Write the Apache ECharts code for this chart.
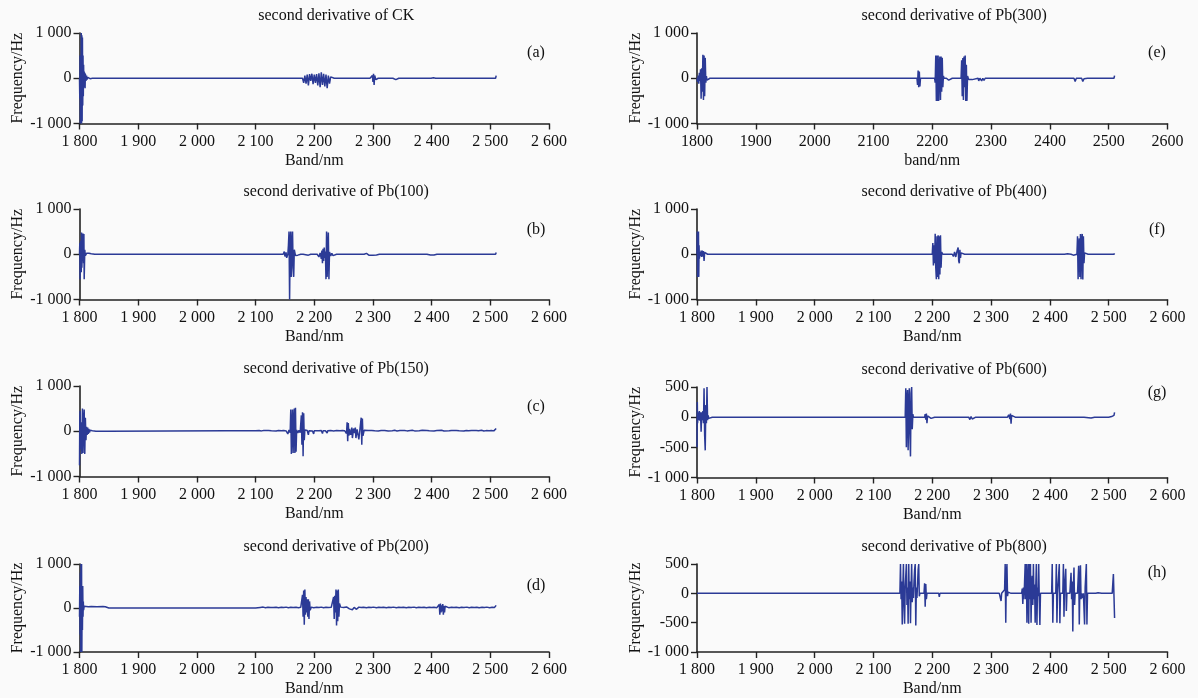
<!DOCTYPE html>
<html>
<head>
<meta charset="utf-8">
<script src="https://cdn.jsdelivr.net/npm/echarts@6/dist/echarts.min.js"></script>
<style>
html,body{margin:0;padding:0;background:#fafafa;}
#chart{width:1198px;height:698px;}
</style>
</head>
<body>
<div id="chart"></div>
<script>
// ---- Panel titles & labels ----
const panelTitles = ['second derivative of CK','second derivative of Pb(100)','second derivative of Pb(150)','second derivative of Pb(200)',
                     'second derivative of Pb(300)','second derivative of Pb(400)','second derivative of Pb(600)','second derivative of Pb(800)'];
const panelLetters = ['(a)','(b)','(c)','(d)','(e)','(f)','(g)','(h)'];
const xAxisNames = ['Band/nm','Band/nm','Band/nm','Band/nm','band/nm','Band/nm','Band/nm','Band/nm'];
const yAxisName = 'Frequency/Hz';
const xTicks = [1800,1900,2000,2100,2200,2300,2400,2500,2600];
const yTicksFull = [-1000,0,1000];
const yTicksHalf = [-1000,-500,0,500];

// ---- Series values: [band nm, second derivative] ----
const dataCK = [[1800,0],[1800.5,-450],[1801,500],[1801.5,-1000],[1802,300],[1802.5,-800],[1803,1000],[1803.5,-1000],[1804,950],[1804.5,-950],[1805,900],[1805.5,-600],[1806,500],[1806.5,-400],[1807,300],[1807.5,-200],[1808,150],[1808.5,-120],[1809,120],[1809.5,-220],[1810,100],[1811,-60],[1812,60],[1813,-30],[1814,20],[1815,-20],[1816,15],[1818,-10],[1820,10],[1822,0],[1826,0],
[2180,0],[2182,-100],[2184,60],[2186,-120],[2188,80],[2190,-160],[2192,90],[2194,-60],[2196,100],[2198,-130],[2200,80],[2202,-100],[2204,90],[2206,-160],[2208,110],[2210,-200],[2212,130],[2214,-150],[2216,100],[2218,-180],[2220,80],[2222,-220],[2224,60],[2226,-120],[2228,30],[2230,0],[2234,0],[2240,0],[2241,-15],[2242,0],[2257,0],[2258,-30],[2259,0],[2295,0],[2297,-40],[2299,60],[2300,-80],[2301,100],[2302,-150],[2303,60],[2305,-30],[2307,10],[2309,0],[2312,0],[2334,0],[2335,-30],[2337,0],[2339,-30],[2341,0],[2344,0],[2399,0],[2401,-25],[2403,10],[2405,-25],[2407,0],[2409,-20],[2411,0],[2414,0],[2461,0],[2463,-30],[2465,0],[2467,-30],[2469,0],[2472,0],[2509,0],[2510,60]];

const dataPb100 = [[1800,0],[1800.5,250],[1801,-550],[1802,300],[1803,-400],[1803.5,480],[1804,-300],[1805,200],[1805.5,-100],[1806,460],[1807,-200],[1807.5,450],[1808,-550],[1809,100],[1810,-30],[1812,20],[1814,-20],[1816,20],[1818,-20],[1820,10],[1822,0],[1826,0],
[2147,0],[2149,60],[2150,-50],[2152,40],[2153,-80],[2155,0],[2156,200],[2157,500],[2158,-1000],[2159,300],[2160,500],[2161,-500],[2162,200],[2163,500],[2164,-300],[2165,-500],[2166,100],[2168,-30],[2170,0],[2172,-20],[2174,0],[2177,0],[2180,-30],[2181,0],[2184,0],[2190,-20],[2191,0],[2194,0],[2200,0],[2203,-40],[2205,0],[2208,-60],[2210,30],[2212,-100],[2213,80],[2214,-200],[2215,120],[2216,-150],[2217,150],[2218,-80],[2219,60],[2220,-550],[2221,500],[2222,-500],[2223,100],[2224,480],[2225,-550],[2226,50],[2228,-40],[2230,20],[2232,-30],[2234,0],[2238,0],
[2285,0],[2287,-20],[2289,20],[2291,0],[2293,-20],[2296,0],[2300,-20],[2302,0],[2306,-15],[2308,0],[2311,0],[2388,0],[2390,-15],[2392,0],[2398,-15],[2400,0],[2404,-15],[2406,0],[2409,0],[2509,0],[2510,40]];

const dataPb150 = [[1800,-750],[1800.5,300],[1801,450],[1802,-400],[1803,200],[1804,-500],[1805,500],[1806,-480],[1807,200],[1808,480],[1809,-500],[1810,300],[1811,-200],[1812,100],[1813,-80],[1814,80],[1815,-60],[1816,50],[1817,-30],[1818,20],[1820,0],[1822,10],[1825,0],[1828,0],[1843,0],[1845,20],[1847,0],[1850,0],[1950,5],[2050,10],
[2100,12],[2106,15],[2110,8],[2114,18],[2117,6],[2122,14],[2127,10],[2130,20],[2135,6],[2139,16],[2144,10],[2148,18],[2152,8],[2155,-60],[2157,30],[2159,-30],[2160,480],[2161,-500],[2162,100],[2163,480],[2164,-480],[2165,200],[2166,500],[2167,-480],[2168,520],[2169,-450],[2170,30],[2172,-40],[2174,20],[2176,-30],[2178,350],[2179,-300],[2180,420],[2181,-550],[2182,400],[2183,-200],[2184,30],
[2186,5],[2188,15],[2190,-80],[2191,10],[2194,15],[2197,5],[2199,-60],[2200,10],[2204,12],[2207,-30],[2208,10],[2212,15],[2214,-50],[2215,10],[2219,12],[2222,-40],[2223,10],[2228,15],[2233,8],[2238,14],[2244,10],[2248,15],[2252,10],
[2255,-50],[2256,200],[2257,-220],[2258,180],[2259,-100],[2260,50],[2262,-80],[2264,80],[2265,-150],[2267,60],[2269,-40],[2270,80],[2271,-150],[2273,40],[2275,80],[2276,-180],[2278,60],[2280,300],[2281,-300],[2282,280],[2283,-100],
[2285,20],[2288,8],[2292,16],[2294,5],[2298,18],[2303,10],[2305,22],[2309,6],[2314,15],[2317,10],[2320,18],[2326,5],[2329,16],[2333,12],[2337,20],[2341,6],[2346,15],[2349,10],[2354,18],[2358,8],[2361,14],[2367,20],[2371,8],[2374,15],[2379,10],[2384,20],[2387,6],[2392,16],[2396,10],[2399,18],[2404,7],[2409,15],[2412,11],[2417,20],[2421,6],[2424,14],[2430,10],[2434,18],[2437,8],[2442,16],[2447,12],[2450,20],[2455,6],[2459,15],[2463,10],[2468,18],[2471,7],[2476,15],[2480,11],[2485,20],[2489,6],[2493,14],[2498,10],[2502,18],[2506,8],[2509,12],[2510,60]];

const dataPb200 = [[1800,-200],[1800.5,500],[1801,-600],[1801.5,800],[1802,-1000],[1802.5,1000],[1803,-900],[1803.5,1000],[1804,-1000],[1804.5,500],[1805,-500],[1805.5,500],[1806,-200],[1806.5,150],[1807,-50],[1808,40],[1810,30],[1815,30],[1820,35],[1830,30],[1840,35],[1844,30],[1845,0],[1850,0],[2100,0],[2102,20],
[2108,14],[2113,20],[2117,8],[2121,16],[2126,10],[2129,-20],[2130,12],[2135,18],[2139,8],[2144,16],[2148,10],[2152,20],[2156,7],[2160,15],[2163,-15],[2164,12],[2169,18],[2173,8],[2177,16],[2180,300],[2181,-200],[2182,400],[2183,-380],[2184,420],[2185,-150],[2186,250],[2187,-100],[2188,200],[2189,-200],[2190,200],[2191,-250],[2192,150],[2193,-50],[2195,20],
[2199,8],[2204,16],[2208,10],[2212,20],[2216,6],[2220,15],[2224,10],[2229,18],[2233,250],[2234,-250],[2235,280],[2236,-100],[2237,420],[2238,-400],[2239,400],[2240,-300],[2241,420],[2242,-200],[2243,100],[2245,20],[2250,10],[2255,25],[2260,-20],[2262,20],[2265,-40],[2268,15],[2272,-30],[2276,20],[2280,10],
[2284,18],[2289,6],[2293,15],[2297,10],[2301,20],[2306,7],[2310,16],[2314,10],[2318,19],[2323,6],[2327,15],[2331,11],[2335,20],[2340,8],[2344,15],[2348,10],[2352,18],[2357,6],[2361,16],[2365,11],[2370,20],[2374,7],[2378,15],[2383,10],[2387,18],[2391,6],[2396,16],[2400,11],[2404,19],[2409,8],[2413,80],[2414,-150],[2415,100],[2416,-100],[2417,60],[2418,-80],[2419,90],[2420,-150],[2421,50],[2422,-100],[2423,40],[2425,20],
[2429,8],[2434,16],[2438,10],[2442,19],[2447,6],[2451,15],[2455,10],[2460,20],[2464,7],[2468,16],[2473,10],[2477,18],[2481,6],[2486,15],[2490,11],[2494,20],[2499,7],[2503,16],[2507,10],[2509,14],[2510,60]];

const dataPb300 = [[1800,0],[1801,-80],[1802,60],[1803,-120],[1804,120],[1805,-60],[1806,200],[1807,-450],[1808,220],[1809,-300],[1810,520],[1811,-480],[1812,500],[1813,-400],[1814,450],[1815,-100],[1816,50],[1817,-40],[1818,0],[1822,0],
[2174,0],[2175,-150],[2176,170],[2177,-200],[2178,150],[2179,-180],[2180,0],[2184,0],[2195,0],[2196,-40],[2197,0],[2200,0],[2204,0],[2205,-100],[2206,500],[2207,-500],[2208,500],[2209,-500],[2210,500],[2211,-500],[2212,300],[2213,480],[2214,-480],[2215,480],[2216,-300],[2217,450],[2218,-200],[2219,50],[2220,0],[2222,-40],[2224,0],[2228,-40],[2230,0],[2234,0],
[2249,0],[2250,400],[2251,-400],[2252,450],[2253,-480],[2254,480],[2255,-200],[2256,500],[2257,-500],[2258,300],[2259,-500],[2260,50],[2262,-30],[2264,0],[2268,-30],[2270,0],[2278,0],[2279,-60],[2281,0],[2284,-60],[2286,0],[2288,-50],[2290,0],[2294,0],
[2441,0],[2443,-70],[2445,0],[2454,0],[2456,-70],[2458,-10],[2460,0],[2464,0],[2509,0],[2510,60]];

const dataPb400 = [[1800,0],[1800.5,500],[1801,-500],[1801.5,500],[1802,-500],[1802.5,500],[1803,-500],[1803.5,200],[1804,-100],[1805,50],[1806,-40],[1807,80],[1808,-60],[1809,80],[1810,-50],[1811,70],[1812,-150],[1813,40],[1814,0],[1818,0],
[2159,0],[2160,-15],[2161,0],[2165,0],[2200,0],[2201,250],[2202,-250],[2203,200],[2204,-200],[2205,450],[2206,-300],[2207,-550],[2208,400],[2209,-500],[2210,420],[2211,-550],[2212,400],[2213,-450],[2214,420],[2215,-300],[2216,50],[2218,0],[2220,-40],[2222,0],[2226,0],
[2234,0],[2236,-50],[2238,50],[2240,-60],[2242,60],[2244,150],[2245,-150],[2246,-200],[2247,100],[2248,-80],[2249,30],[2251,0],[2255,0],
[2425,0],[2427,-20],[2430,10],[2433,-20],[2436,0],[2440,-20],[2442,0],[2446,0],[2447,400],[2448,-550],[2449,200],[2450,350],[2451,-500],[2452,450],[2453,-550],[2454,300],[2455,450],[2456,-560],[2457,400],[2458,-200],[2459,30],[2461,0],[2465,0],[2470,0],[2471,-25],[2472,0],[2476,0],[2509,0],[2510,20]];

const dataPb600 = [[1800,-500],[1800.5,250],[1801,-100],[1802,80],[1803,-50],[1804,100],[1805,-60],[1806,80],[1807,-240],[1808,80],[1809,-50],[1810,100],[1811,-100],[1812,480],[1813,-300],[1814,-550],[1815,200],[1816,-100],[1817,500],[1818,-50],[1819,30],[1820,-20],[1822,0],[1826,0],
[2154,0],[2155,480],[2156,-500],[2157,300],[2158,450],[2159,-550],[2160,200],[2161,480],[2162,-300],[2163,-650],[2164,400],[2165,500],[2166,-200],[2167,50],[2168,0],[2172,0],
[2187,0],[2188,50],[2189,-40],[2190,60],[2191,-100],[2192,20],[2194,0],[2198,-20],[2200,0],[2204,0],[2262,0],[2264,-40],[2266,10],[2268,-30],[2270,0],[2274,0],
[2328,0],[2330,40],[2332,-30],[2333,60],[2334,-110],[2335,30],[2337,0],[2341,0],[2393,0],[2395,-15],[2397,0],[2401,0],[2412,0],[2414,-10],[2416,0],[2420,0],[2458,0],[2460,-15],[2470,-15],[2472,0],[2476,0],[2500,0],[2502,-10],[2505,10],[2508,20],[2509,30],[2510,80]];

const dataPb800 = [[1800,0],[2145,0],[2146,500],[2147,-100],[2148,200],[2149,-530],[2150,100],[2151,500],[2152,-200],[2153,-520],[2154,100],[2155,300],[2156,500],[2157,-200],[2158,100],[2159,-520],[2160,500],[2161,-100],[2162,200],[2163,-510],[2164,100],[2165,500],[2166,-150],[2167,100],[2168,-80],[2169,200],[2170,400],[2171,500],[2172,-550],[2173,100],[2174,-80],[2175,150],[2176,400],[2177,500],[2178,-50],[2179,0],[2182,0],
[2186,0],[2187,170],[2188,-230],[2189,160],[2190,-100],[2191,0],[2194,0],[2211,0],[2212,-60],[2213,0],[2216,0],[2220,0],[2221,-20],[2222,0],[2225,0],[2232,0],[2233,-20],[2234,0],[2237,0],[2255,0],[2257,-10],[2259,0],[2264,0],[2266,-10],[2268,0],[2272,0],[2274,-8],[2276,0],[2282,0],[2284,-8],[2286,0],[2306,0],[2308,-10],[2310,0],
[2314,0],[2316,-20],[2317,-130],[2318,0],[2319,30],[2321,-20],[2323,60],[2324,500],[2325,-500],[2326,300],[2327,500],[2328,-50],[2329,20],[2331,0],[2334,0],[2342,0],[2343,-30],[2344,0],[2347,0],
[2352,0],[2353,80],[2354,-180],[2355,100],[2356,-100],[2357,200],[2358,500],[2359,-100],[2360,500],[2361,-500],[2362,200],[2363,500],[2364,-520],[2365,500],[2366,-100],[2367,500],[2368,-500],[2369,100],[2370,300],[2371,-200],[2372,500],[2373,-100],[2374,150],[2375,-500],[2376,100],[2377,500],[2378,-540],[2379,100],[2380,-50],[2381,500],[2382,-100],[2383,-540],[2384,0],[2387,0],
[2403,0],[2404,500],[2405,-500],[2406,0],[2410,0],[2411,500],[2412,-500],[2413,0],[2415,-20],[2416,500],[2417,-510],[2418,0],[2420,-30],[2422,0],[2423,500],[2424,-400],[2425,100],[2427,420],[2428,-300],[2429,0],[2432,-20],[2434,0],[2436,350],[2437,-100],[2438,200],[2439,-650],[2440,100],[2441,440],[2442,-200],[2443,0],[2446,-30],[2447,0],[2449,470],[2450,-530],[2451,100],[2452,480],[2453,-100],[2454,0],[2456,-80],[2457,0],[2459,-530],[2460,100],[2462,500],[2463,-530],[2464,0],[2466,-30],[2468,0],[2470,-20],[2472,0],
[2478,0],[2480,-20],[2482,10],[2484,0],[2488,0],[2490,-15],[2492,0],[2495,0],[2506,0],[2508,330],[2510,-420]];

const panelData = [dataCK,dataPb100,dataPb150,dataPb200,dataPb300,dataPb400,dataPb600,dataPb800];

// ---- Layout ----
const FONT = '"Liberation Serif","Times New Roman",serif';
const LINE_COLOR = '#2b3a96';
const colLeft = [79.5, 697];
const colWidth = [469.5, 470.5];
const rowTops = [[33,209,386,564],[33,209,387,564]];
const gridH = 90.5;
const letterY = [53,230,407,586,53,230,393,573];

function spaced(v){
  const s = String(Math.abs(v));
  const t = s.length > 3 ? s.slice(0, -3) + ' ' + s.slice(-3) : s;
  return (v < 0 ? '-' : '') + t;
}

const grids = [], xAxes = [], yAxes = [], series = [], graphics = [];
for (let i = 0; i < 8; i++) {
  const col = i < 4 ? 0 : 1;
  const row = i % 4;
  const top = rowTops[col][row];
  grids.push({left: colLeft[col], top: top, width: colWidth[col], height: gridH, containLabel: false});
  const half = (i === 6 || i === 7);
  const yt = half ? yTicksHalf : yTicksFull;
  xAxes.push({
    type: 'value', gridIndex: i, min: xTicks[0], max: xTicks[xTicks.length-1], interval: 100,
    name: xAxisNames[i], nameLocation: 'middle', nameGap: 29,
    nameTextStyle: {fontFamily: FONT, fontSize: 16, color: '#111'},
    axisLine: {show: true, onZero: false, lineStyle: {color: '#222', width: 1.6}},
    axisTick: {show: true, length: 6, inside: false, lineStyle: {color: '#222', width: 1.4}},
    axisLabel: {fontFamily: FONT, fontSize: 16, color: '#111', margin: 10,
      formatter: i === 4 ? (v => String(v)) : spaced},
    splitLine: {show: false}
  });
  yAxes.push({
    type: 'value', gridIndex: i, min: yt[0], max: yt[yt.length-1], interval: half ? 500 : 1000,
    name: yAxisName, nameLocation: 'middle', nameGap: 50, nameRotate: 90,
    nameTextStyle: {fontFamily: FONT, fontSize: 16, color: '#111'},
    axisLine: {show: true, lineStyle: {color: '#222', width: 1.6}},
    axisTick: {show: true, length: 6, inside: false, lineStyle: {color: '#222', width: 1.4}},
    axisLabel: {fontFamily: FONT, fontSize: 16, color: '#111', margin: 8, formatter: spaced},
    splitLine: {show: false}
  });
  series.push({
    type: 'line', xAxisIndex: i, yAxisIndex: i, data: panelData[i],
    showSymbol: false, symbol: 'none', clip: true,
    lineStyle: {color: LINE_COLOR, width: 1.5}, silent: true
  });
  const cx = colLeft[col] + colWidth[col] / 2 + 22;
  graphics.push({type: 'text', x: cx, y: top - 17,
    style: {text: panelTitles[i], font: '16px ' + FONT, fill: '#111', align: 'center', verticalAlign: 'middle', textAlign: 'center', textVerticalAlign: 'middle'}});
  graphics.push({type: 'text', x: col === 0 ? 536 : 1157, y: letterY[i],
    style: {text: panelLetters[i], font: '16px ' + FONT, fill: '#111', align: 'center', verticalAlign: 'middle', textAlign: 'center', textVerticalAlign: 'middle'}});
}

const chart = echarts.init(document.getElementById('chart'), null, {renderer: 'canvas'});
chart.setOption({
  backgroundColor: '#fafafa',
  animation: false,
  grid: grids, xAxis: xAxes, yAxis: yAxes, series: series,
  graphic: graphics
});
</script>
</body>
</html>
